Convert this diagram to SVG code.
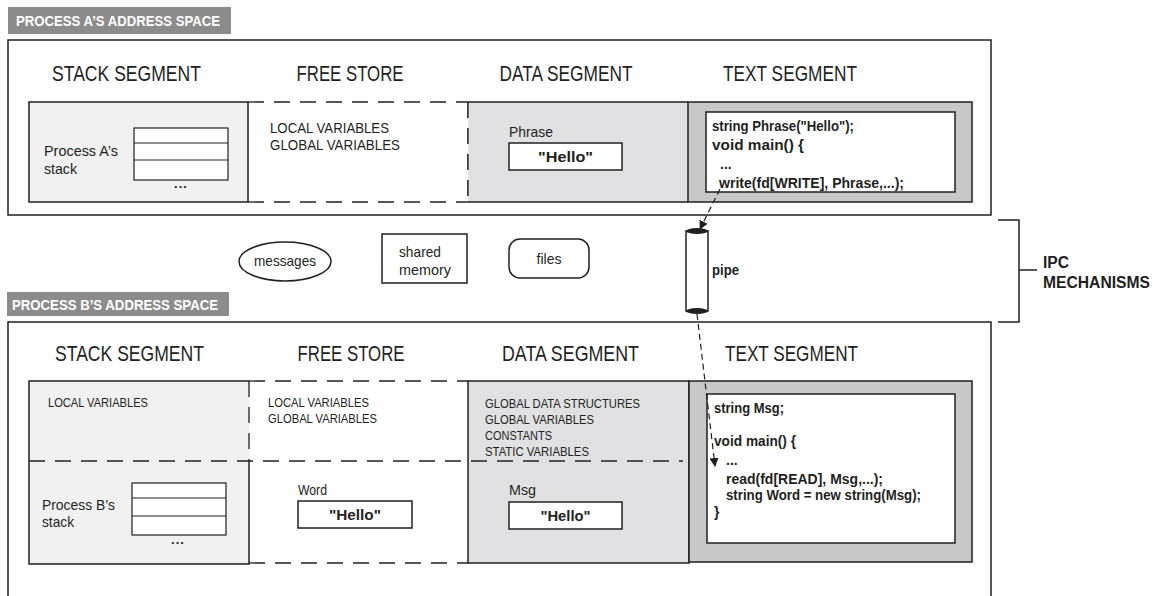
<svg xmlns="http://www.w3.org/2000/svg" width="1162" height="596" viewBox="0 0 1162 596">
<style>
text { font-family: "Liberation Sans", Arial, sans-serif; fill: #231f20; }
.hdr { font-size: 14px; font-weight: bold; fill: #ffffff; }
.seg { font-size: 22px; text-anchor: middle; }
.lbl { font-size: 15px; }
.sm { font-size: 13px; }
.code { font-size: 14px; font-weight: bold; }
.b { font-weight: bold; }
.mid { text-anchor: middle; }
.box { fill: none; stroke: #231f20; stroke-width: 1.5; }
.ln { fill: none; stroke: #231f20; stroke-width: 1.5; }
.dash { fill: none; stroke: #231f20; stroke-width: 1.3; stroke-dasharray: 16 10; }
.hbar { fill: #8c8c8c; }
.stk { fill: #f1f1f1; }
.dat { fill: #e1e1e3; }
.txs { fill: #c8c8c8; stroke: #231f20; stroke-width: 1.5; }
.wbox { fill: #ffffff; stroke: #231f20; stroke-width: 1.5; }
.tbl { fill: #ffffff; stroke: #231f20; stroke-width: 1.2; }
.conn { fill: none; stroke: #231f20; stroke-width: 1.2; stroke-dasharray: 6 4; }
</style>
<defs>
<marker id="ah" viewBox="0 0 10 10" refX="9" refY="5" markerWidth="9" markerHeight="9" orient="auto" markerUnits="userSpaceOnUse">
<path d="M0,0 L10,5 L0,10 z" fill="#231f20"/>
</marker>
</defs>

<!-- Process A -->
<g id="processA">
  <rect class="hbar" x="8" y="7" width="223" height="27"/>
  <text class="hdr" x="16" y="26" textLength="204" lengthAdjust="spacingAndGlyphs">PROCESS A’S ADDRESS SPACE</text>
  <rect class="box" x="8" y="40" width="983" height="175"/>
  <text class="seg" x="126.5" y="81" textLength="149" lengthAdjust="spacingAndGlyphs">STACK SEGMENT</text>
  <text class="seg" x="350" y="81" textLength="107" lengthAdjust="spacingAndGlyphs">FREE STORE</text>
  <text class="seg" x="566" y="81" textLength="133" lengthAdjust="spacingAndGlyphs">DATA SEGMENT</text>
  <text class="seg" x="790" y="81" textLength="134" lengthAdjust="spacingAndGlyphs">TEXT SEGMENT</text>
</g>

<g id="stackA">
  <rect class="stk" x="29" y="102" width="219" height="100" stroke="#231f20" stroke-width="1.5"/>
  <rect class="tbl" x="134" y="128" width="94" height="52"/>
  <line class="tbl" x1="134" y1="143" x2="228" y2="143"/>
  <line class="tbl" x1="134" y1="160" x2="228" y2="160"/>
  <text class="b mid" x="181" y="188" font-size="13" letter-spacing="1">...</text>
  <text class="lbl" x="44" y="156" textLength="74" lengthAdjust="spacingAndGlyphs">Process A’s</text>
  <text class="lbl" x="44" y="174" textLength="33" lengthAdjust="spacingAndGlyphs">stack</text>
</g>

<g id="freeStoreA">
  <line class="dash" x1="248" y1="102" x2="468" y2="102"/>
  <line class="dash" x1="248" y1="202" x2="468" y2="202"/>
  <line class="dash" x1="468" y1="102" x2="468" y2="202"/>
  <text class="lbl" x="270" y="133" textLength="119" lengthAdjust="spacingAndGlyphs">LOCAL VARIABLES</text>
  <text class="lbl" x="270" y="150" textLength="130" lengthAdjust="spacingAndGlyphs">GLOBAL VARIABLES</text>
</g>

<g id="dataA">
  <rect class="dat" x="468" y="102" width="220" height="100"/>
  <path class="ln" d="M468,102 H688 M468,202 H688"/>
  <line class="dash" x1="468" y1="102" x2="468" y2="202"/>
  <text class="lbl" x="509" y="137" textLength="44" lengthAdjust="spacingAndGlyphs">Phrase</text>
  <rect class="wbox" x="509" y="143" width="113" height="27"/>
  <text class="b mid" x="565.5" y="162" font-size="14" textLength="55" lengthAdjust="spacingAndGlyphs">"Hello"</text>
</g>

<g id="textA">
  <rect class="txs" x="688" y="102" width="284" height="100"/>
  <rect class="wbox" x="706" y="112" width="249" height="80"/>
  <text class="code" x="712" y="131" textLength="142" lengthAdjust="spacingAndGlyphs">string Phrase("Hello");</text>
  <text class="code" x="712" y="150" textLength="92" lengthAdjust="spacingAndGlyphs">void main() {</text>
  <text class="code" x="720" y="169">...</text>
  <text class="code" x="719" y="188" textLength="185" lengthAdjust="spacingAndGlyphs">write(fd[WRITE], Phrase,...);</text>
</g>

<!-- IPC mechanisms -->
<g id="messages">
  <ellipse class="wbox" cx="285" cy="261.5" rx="46" ry="19.5" stroke-width="1.3"/>
  <text class="lbl mid" x="285" y="266" textLength="62" lengthAdjust="spacingAndGlyphs">messages</text>
</g>
<g id="sharedMemory">
  <rect class="wbox" x="382" y="234" width="85" height="49" stroke-width="1.3"/>
  <text class="lbl" x="399" y="257" textLength="42" lengthAdjust="spacingAndGlyphs">shared</text>
  <text class="lbl" x="399" y="275" textLength="52" lengthAdjust="spacingAndGlyphs">memory</text>
</g>
<g id="files">
  <rect class="wbox" x="509" y="239" width="80" height="39" rx="11" stroke-width="1.3"/>
  <text class="lbl mid" x="549" y="264" textLength="25" lengthAdjust="spacingAndGlyphs">files</text>
</g>
<g id="pipe">
  <rect class="wbox" x="686" y="231" width="22" height="80" stroke-width="1.3"/>
  <ellipse cx="697" cy="231" rx="11" ry="3" fill="#231f20"/>
  <ellipse cx="697" cy="311" rx="11" ry="3" fill="#231f20"/>
  <text class="b" x="712" y="275" font-size="14" textLength="27" lengthAdjust="spacingAndGlyphs">pipe</text>
</g>
<g id="ipcLabel">
  <path class="ln" d="M998,220 H1019 V322 H998 M1019,270 H1037"/>
  <text class="b" x="1043" y="268" font-size="16" textLength="26" lengthAdjust="spacingAndGlyphs">IPC</text>
  <text class="b" x="1043" y="288" font-size="16" textLength="107" lengthAdjust="spacingAndGlyphs">MECHANISMS</text>
</g>

<!-- Process B -->
<g id="processB">
  <rect class="hbar" x="7" y="292" width="222" height="24"/>
  <text class="hdr" x="12" y="310" textLength="206" lengthAdjust="spacingAndGlyphs">PROCESS B’S ADDRESS SPACE</text>
  <path class="ln" d="M8,600 V322 H991 V600"/>
  <text class="seg" x="129.5" y="361" textLength="149" lengthAdjust="spacingAndGlyphs">STACK SEGMENT</text>
  <text class="seg" x="351" y="361" textLength="107" lengthAdjust="spacingAndGlyphs">FREE STORE</text>
  <text class="seg" x="570.5" y="361" textLength="137" lengthAdjust="spacingAndGlyphs">DATA SEGMENT</text>
  <text class="seg" x="791.5" y="361" textLength="133" lengthAdjust="spacingAndGlyphs">TEXT SEGMENT</text>
</g>

<g id="stackB">
  <rect class="stk" x="29" y="381" width="220" height="183"/>
  <path class="ln" d="M249,461 V564 H29 V381 H249"/>
  <line class="dash" x1="249" y1="381" x2="249" y2="461"/>
  <text class="sm" x="48" y="407" textLength="100" lengthAdjust="spacingAndGlyphs">LOCAL VARIABLES</text>
  <rect class="tbl" x="132" y="483" width="94" height="52"/>
  <line class="tbl" x1="132" y1="498" x2="226" y2="498"/>
  <line class="tbl" x1="132" y1="516" x2="226" y2="516"/>
  <text class="b mid" x="178" y="544" font-size="13" letter-spacing="1">...</text>
  <text class="lbl" x="42" y="510" textLength="73" lengthAdjust="spacingAndGlyphs">Process B’s</text>
  <text class="lbl" x="42" y="527" textLength="32" lengthAdjust="spacingAndGlyphs">stack</text>
</g>

<g id="freeStoreB">
  <line class="dash" x1="249" y1="381" x2="468" y2="381"/>
  <line class="dash" x1="249" y1="563" x2="468" y2="563"/>
  <text class="sm" x="268" y="407" textLength="101" lengthAdjust="spacingAndGlyphs">LOCAL VARIABLES</text>
  <text class="sm" x="268" y="423" textLength="109" lengthAdjust="spacingAndGlyphs">GLOBAL VARIABLES</text>
  <text class="lbl" x="298" y="495" textLength="29" lengthAdjust="spacingAndGlyphs">Word</text>
  <rect class="wbox" x="298" y="501" width="114" height="27"/>
  <text class="b mid" x="355" y="520" font-size="14" textLength="52" lengthAdjust="spacingAndGlyphs">"Hello"</text>
</g>

<g id="dataB">
  <rect class="dat" x="468" y="381" width="221" height="182" stroke="#231f20" stroke-width="1.5"/>
  <text class="sm" x="485" y="408" textLength="155" lengthAdjust="spacingAndGlyphs">GLOBAL DATA STRUCTURES</text>
  <text class="sm" x="485" y="424" textLength="109" lengthAdjust="spacingAndGlyphs">GLOBAL VARIABLES</text>
  <text class="sm" x="485" y="440" textLength="67" lengthAdjust="spacingAndGlyphs">CONSTANTS</text>
  <text class="sm" x="485" y="456" textLength="104" lengthAdjust="spacingAndGlyphs">STATIC VARIABLES</text>
  <text class="lbl" x="509" y="495" textLength="27" lengthAdjust="spacingAndGlyphs">Msg</text>
  <rect class="wbox" x="509" y="502" width="113" height="27"/>
  <text class="b mid" x="565.5" y="521" font-size="14" textLength="50" lengthAdjust="spacingAndGlyphs">"Hello"</text>
</g>

<g id="splitB">
  <line class="dash" x1="29" y1="461" x2="683" y2="461"/>
</g>

<g id="textB">
  <rect class="txs" x="689" y="381" width="283" height="181"/>
  <rect class="wbox" x="707" y="394" width="248" height="149"/>
  <text class="code" x="714" y="413" textLength="70" lengthAdjust="spacingAndGlyphs">string Msg;</text>
  <text class="code" x="714" y="446" textLength="82" lengthAdjust="spacingAndGlyphs">void main() {</text>
  <text class="code" x="726" y="465">...</text>
  <text class="code" x="726" y="484" textLength="157" lengthAdjust="spacingAndGlyphs">read(fd[READ], Msg,...);</text>
  <text class="code" x="726" y="500" textLength="195" lengthAdjust="spacingAndGlyphs">string Word = new string(Msg);</text>
  <text class="code" x="714" y="517">}</text>
</g>

<g id="connectors">
  <line class="conn" x1="720" y1="189" x2="700" y2="229" marker-end="url(#ah)"/>
  <line class="conn" x1="697" y1="314" x2="715" y2="466" marker-end="url(#ah)"/>
</g>
</svg>
